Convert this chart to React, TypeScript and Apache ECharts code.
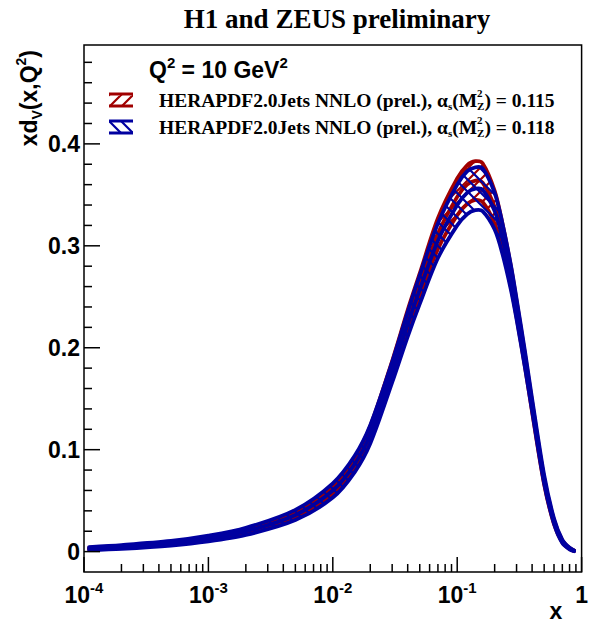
import React, { useEffect, useRef } from "react";
import * as echarts from "echarts";

// ---------------- data ----------------
const X_VALUES = [1.1e-4, 2e-4, 5e-4, 1e-3, 2e-3, 5e-3, 1e-2, 1.5e-2, 2e-2, 3e-2, 4e-2, 5e-2, 7e-2, 0.1, 0.12, 0.14, 0.16, 0.2, 0.23, 0.27, 0.3, 0.35, 0.4, 0.5, 0.6, 0.7, 0.8, 0.87];

const RED_CENTRAL = [0.003, 0.0045, 0.008, 0.0125, 0.0195, 0.036, 0.06, 0.087, 0.117, 0.18, 0.228, 0.262, 0.312, 0.348, 0.36, 0.364, 0.362, 0.338, 0.31, 0.27, 0.238, 0.188, 0.142, 0.069, 0.029, 0.01, 0.003, 0.0008];
const RED_UPPER = [0.0038, 0.0055, 0.0092, 0.014, 0.0215, 0.039, 0.064, 0.092, 0.123, 0.187, 0.237, 0.273, 0.327, 0.366, 0.379, 0.383, 0.381, 0.354, 0.323, 0.28, 0.246, 0.194, 0.147, 0.072, 0.031, 0.011, 0.0035, 0.0011];
const RED_LOWER = [0.0022, 0.0035, 0.0068, 0.011, 0.0175, 0.033, 0.056, 0.082, 0.111, 0.173, 0.219, 0.251, 0.297, 0.33, 0.341, 0.345, 0.343, 0.322, 0.297, 0.26, 0.23, 0.182, 0.137, 0.066, 0.027, 0.009, 0.0025, 0.0005];

const BLUE_CENTRAL = [0.003, 0.0046, 0.0082, 0.0128, 0.0198, 0.036, 0.06, 0.086, 0.115, 0.176, 0.223, 0.257, 0.305, 0.34, 0.352, 0.356, 0.355, 0.334, 0.308, 0.269, 0.238, 0.189, 0.144, 0.071, 0.03, 0.01, 0.003, 0.0008];
const BLUE_UPPER = [0.0045, 0.0064, 0.0104, 0.0156, 0.0233, 0.041, 0.067, 0.094, 0.124, 0.186, 0.235, 0.271, 0.322, 0.36, 0.373, 0.377, 0.376, 0.352, 0.323, 0.281, 0.248, 0.197, 0.15, 0.075, 0.0325, 0.0115, 0.0038, 0.0012];
const BLUE_LOWER = [0.0015, 0.0028, 0.006, 0.01, 0.0163, 0.031, 0.053, 0.078, 0.106, 0.166, 0.211, 0.243, 0.288, 0.32, 0.331, 0.335, 0.334, 0.316, 0.293, 0.257, 0.228, 0.181, 0.138, 0.067, 0.0275, 0.0085, 0.0022, 0.0004];

const ALPHA_VALUES = ["0.115", "0.118"];
const X_MAJOR_TICKS = [1e-4, 1e-3, 1e-2, 1e-1, 1];
const X_MINOR_TICKS = [
  2e-4, 3e-4, 4e-4, 5e-4, 6e-4, 7e-4, 8e-4, 9e-4,
  2e-3, 3e-3, 4e-3, 5e-3, 6e-3, 7e-3, 8e-3, 9e-3,
  2e-2, 3e-2, 4e-2, 5e-2, 6e-2, 7e-2, 8e-2, 9e-2,
  0.2, 0.3, 0.4, 0.5, 0.6, 0.7, 0.8, 0.9,
];
const Y_MAJOR_TICKS = [0, 0.1, 0.2, 0.3, 0.4];
const Y_MINOR_TICKS = [0.02, 0.04, 0.06, 0.08, 0.12, 0.14, 0.16, 0.18, 0.22, 0.24, 0.26, 0.28, 0.32, 0.34, 0.36, 0.38, 0.42, 0.44, 0.46, 0.48];

// ---------------- style ----------------
const X_MIN = 1e-4;
const X_MAX = 1;
const Y_MIN = -0.02;
const Y_MAX = 0.497;
const RED = "#a00000";
const BLUE = "#0000a0";
const SANS = "'Liberation Sans', Arial, sans-serif";
const SERIF = "'Liberation Serif', 'Times New Roman', serif";

function measure(text: string, font: string): number {
  const ctx = document.createElement("canvas").getContext("2d")!;
  ctx.font = font;
  return ctx.measureText(text).width;
}

function hatch(color: string, dir: number) {
  const s = 12;
  const c = document.createElement("canvas");
  c.width = s;
  c.height = s;
  const g = c.getContext("2d")!;
  g.strokeStyle = color;
  g.lineWidth = 2.2;
  g.beginPath();
  if (dir > 0) {
    for (const k of [0, s, 2 * s]) {
      g.moveTo(k - s, s);
      g.lineTo(k + s, -s);
    }
  } else {
    for (const k of [-s, 0, s]) {
      g.moveTo(-s, -s + k);
      g.lineTo(2 * s, 2 * s + k);
    }
  }
  g.stroke();
  return { image: c.toDataURL(), repeat: "repeat", imageWidth: s, imageHeight: s } as any;
}

function bandSeries(upper: number[], central: number[], lower: number[], color: string, dir: number, z: number) {
  const pattern = hatch(color, dir);
  return {
    type: "custom",
    z,
    silent: true,
    data: X_VALUES.map((x, i) => [x, central[i]]),
    encode: { x: 0, y: 1 },
    renderItem: (params: any, api: any) => {
      if (params.dataIndex !== 0) return null;
      const up = X_VALUES.map((x, i) => api.coord([x, upper[i]]));
      const mid = X_VALUES.map((x, i) => api.coord([x, central[i]]));
      const lo = X_VALUES.map((x, i) => api.coord([x, lower[i]]));
      const poly = up.concat(lo.slice().reverse());
      const lineStyle = { stroke: color, lineWidth: 3.8, fill: "none", lineJoin: "round", lineCap: "round" };
      return {
        type: "group",
        children: [
          { type: "polygon", shape: { points: poly, smooth: 0.3 }, style: { fill: pattern, stroke: "none" } },
          { type: "polyline", shape: { points: up, smooth: 0.3 }, style: lineStyle },
          { type: "polyline", shape: { points: mid, smooth: 0.3 }, style: lineStyle },
          { type: "polyline", shape: { points: lo, smooth: 0.3 }, style: lineStyle },
        ],
      };
    },
  };
}

function legendRow(y: number, alpha: string, color: string, dir: number): any[] {
  const size = 19.5;
  const sub = 11;
  const font = `bold ${size}px ${SERIF}`;
  const subFont = `bold ${sub}px ${SERIF}`;
  const x0 = 159;
  const t1 = "HERAPDF2.0Jets NNLO (prel.), α";
  const w1 = measure(t1, font);
  const ws = measure("s", subFont);
  const t2 = "(M";
  const w2 = measure(t2, font);
  const wz = Math.max(measure("Z", subFont), measure("2", subFont));
  const t3 = `) = ${alpha}`;
  const base = { fontFamily: SERIF, fontWeight: "bold", fill: "#000", verticalAlign: "middle", align: "left" };
  const pattern = hatch(color, dir);
  return [
    { type: "rect", shape: { x: 109, y: y - 6, width: 24, height: 12 }, style: { fill: pattern } },
    { type: "line", shape: { x1: 109, y1: y - 6, x2: 133, y2: y - 6 }, style: { stroke: color, lineWidth: 3 } },
    { type: "line", shape: { x1: 109, y1: y + 6, x2: 133, y2: y + 6 }, style: { stroke: color, lineWidth: 3 } },
    { type: "text", x: x0, y, style: { ...base, text: t1, fontSize: size } },
    { type: "text", x: x0 + w1, y: y + 6, style: { ...base, text: "s", fontSize: sub } },
    { type: "text", x: x0 + w1 + ws, y, style: { ...base, text: t2, fontSize: size } },
    { type: "text", x: x0 + w1 + ws + w2, y: y + 6, style: { ...base, text: "Z", fontSize: sub } },
    { type: "text", x: x0 + w1 + ws + w2, y: y - 7, style: { ...base, text: "2", fontSize: sub } },
    { type: "text", x: x0 + w1 + ws + w2 + wz, y, style: { ...base, text: t3, fontSize: size } },
  ];
}

export default function App() {
  const ref = useRef<HTMLDivElement>(null);
  useEffect(() => {
    if (!ref.current) return;
    const chart = echarts.init(ref.current, undefined, { renderer: "svg" });
    const tickStyle = { stroke: "#000", lineWidth: 1.5 };
    const option: any = {
      animation: false,
      backgroundColor: "#fff",
      grid: { left: 84, right: 5, top: 45, bottom: 51, show: true, borderColor: "#000", borderWidth: 1.5, backgroundColor: "transparent" },
      xAxis: {
        type: "log",
        logBase: 10,
        min: X_MIN,
        max: X_MAX,
        axisLine: { show: false },
        axisTick: { show: false },
        splitLine: { show: false },
        axisLabel: {
          margin: 8,
          formatter: (v: number) => {
            const e = Math.round(Math.log10(v));
            return e === 0 ? "{b|1}" : `{b|10}{s|${e}}`;
          },
          rich: {
            b: { fontSize: 23, fontWeight: "bold", fontFamily: SANS, color: "#000", lineHeight: 30 },
            s: { fontSize: 15, fontWeight: "bold", fontFamily: SANS, color: "#000", lineHeight: 16, verticalAlign: "top" },
          },
        },
      },
      yAxis: {
        type: "value",
        min: Y_MIN,
        max: Y_MAX,
        interval: 0.02,
        axisLine: { show: false },
        axisTick: { show: false },
        splitLine: { show: false },
        axisLabel: {
          margin: 4,
          fontSize: 23,
          fontWeight: "bold",
          fontFamily: SANS,
          color: "#000",
          formatter: (v: number) => {
            const r = Math.round(v * 1000) / 1000;
            const hit = Y_MAJOR_TICKS.find((t) => Math.abs(t - r) < 1e-6);
            return hit === undefined ? "" : String(hit);
          },
        },
      },
      series: [
        bandSeries(RED_UPPER, RED_CENTRAL, RED_LOWER, RED, 1, 2),
        bandSeries(BLUE_UPPER, BLUE_CENTRAL, BLUE_LOWER, BLUE, -1, 3),
        {
          type: "custom",
          z: 10,
          silent: true,
          data: X_MAJOR_TICKS.map((v) => [v, Y_MIN, 15]).concat(X_MINOR_TICKS.map((v) => [v, Y_MIN, 8])),
          encode: { x: 0, y: 1 },
          renderItem: (_p: any, api: any) => {
            const p = api.coord([api.value(0), Y_MIN]);
            const len = api.value(2);
            return { type: "line", shape: { x1: p[0], y1: p[1], x2: p[0], y2: p[1] - len }, style: tickStyle };
          },
        },
        {
          type: "custom",
          z: 10,
          silent: true,
          data: Y_MAJOR_TICKS.map((v) => [X_MIN, v, 16]).concat(Y_MINOR_TICKS.map((v) => [X_MIN, v, 8])),
          encode: { x: 0, y: 1 },
          renderItem: (_p: any, api: any) => {
            const p = api.coord([X_MIN, api.value(1)]);
            const len = api.value(2);
            return { type: "line", shape: { x1: p[0], y1: p[1], x2: p[0] + len, y2: p[1] }, style: tickStyle };
          },
        },
      ],
      graphic: [
        {
          type: "text",
          x: 337,
          y: 19,
          style: { text: "H1 and ZEUS preliminary", fontFamily: SERIF, fontWeight: "bold", fontSize: 27, fill: "#000", align: "center", verticalAlign: "middle" },
        },
        {
          type: "text",
          x: 29,
          y: 50,
          rotation: Math.PI / 2,
          style: {
            text: "{a|xd}{b|V}{a|(x,Q}{c|2}{a|)}",
            align: "right",
            verticalAlign: "middle",
            rich: {
              a: { fontSize: 23, fontWeight: "bold", fontFamily: SANS, fill: "#000", lineHeight: 30 },
              b: { fontSize: 14, fontWeight: "bold", fontFamily: SANS, fill: "#000", lineHeight: 15, verticalAlign: "bottom" },
              c: { fontSize: 14, fontWeight: "bold", fontFamily: SANS, fill: "#000", lineHeight: 15, verticalAlign: "top" },
            },
          },
        },
        {
          type: "text",
          x: 556,
          y: 611,
          style: { text: "x", fontFamily: SANS, fontWeight: "bold", fontSize: 23, fill: "#000", align: "center", verticalAlign: "middle" },
        },
        {
          type: "text",
          x: 149,
          y: 70,
          style: {
            text: "{a|Q}{s|2}{a| = 10 GeV}{s|2}",
            align: "left",
            verticalAlign: "middle",
            rich: {
              a: { fontSize: 23, fontWeight: "bold", fontFamily: SANS, fill: "#000", lineHeight: 30 },
              s: { fontSize: 15, fontWeight: "bold", fontFamily: SANS, fill: "#000", lineHeight: 16, verticalAlign: "top" },
            },
          },
        },
        ...legendRow(100, ALPHA_VALUES[0], RED, 1),
        ...legendRow(127, ALPHA_VALUES[1], BLUE, -1),
      ],
    };
    chart.setOption(option);
    return () => chart.dispose();
  }, []);
  return <div ref={ref} style={{ position: "fixed", left: 0, top: 0, width: 591, height: 623, background: "#fff" }} />;
}
